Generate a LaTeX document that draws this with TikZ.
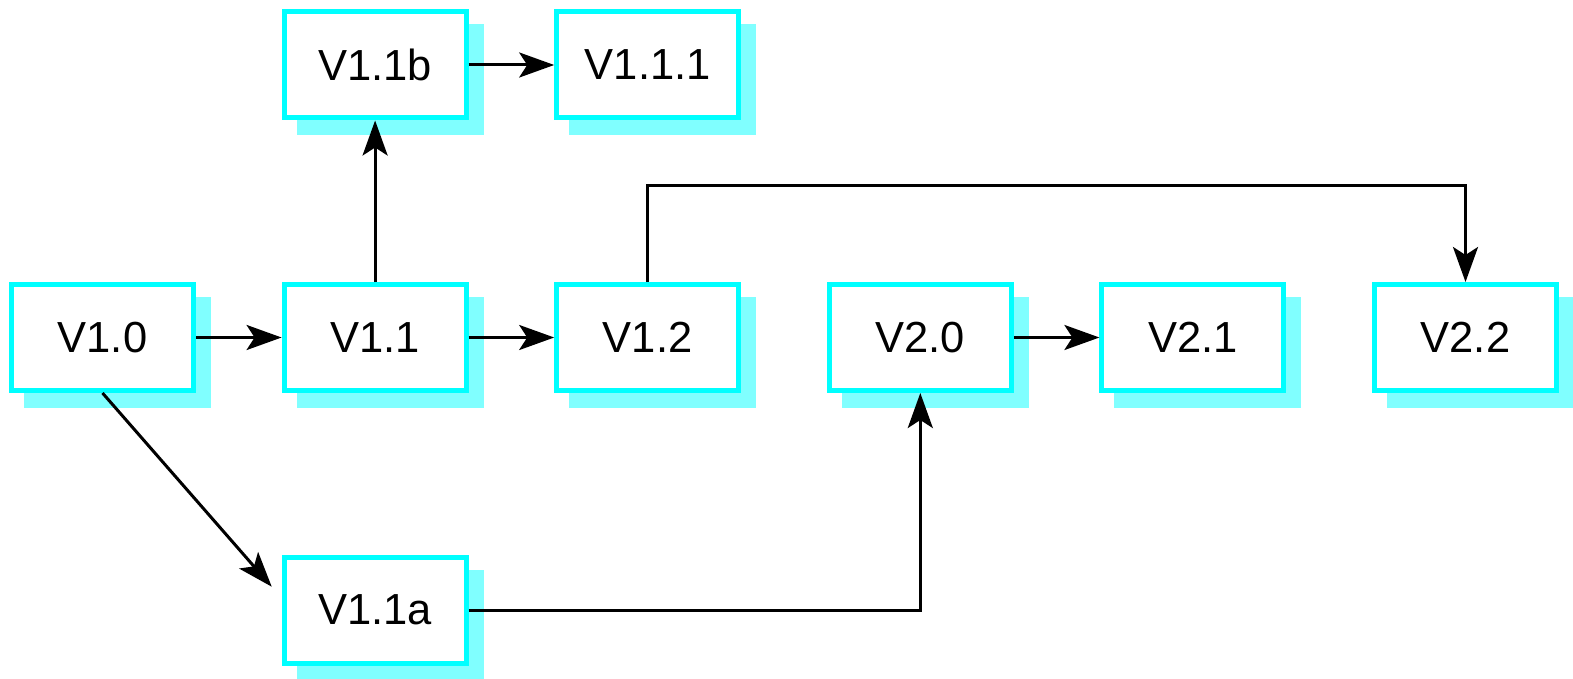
\documentclass[tikz,border=0pt]{standalone}
\usepackage{fontspec}
\setmainfont{Liberation Sans}
\usetikzlibrary{arrows.meta,shadows,calc}
\definecolor{boxcyan}{RGB}{0,255,255}
\definecolor{shadowcyan}{RGB}{128,255,255}
\begin{document}
\begin{tikzpicture}[x=1pt,y=-1pt,
  vbox/.style={draw=boxcyan, line width=5pt, fill=white,
    minimum width=182pt, minimum height=106pt, inner sep=0pt,
    font=\fontsize{43.5}{50}\selectfont,
    drop shadow={shadow xshift=15pt, shadow yshift=-15pt,
      fill=shadowcyan, draw=shadowcyan, line width=5pt, opacity=1}},
  arr/.style={line width=3pt, -{Stealth[length=35pt,width=25pt,inset=8pt]}}]
\useasboundingbox (0,0) rectangle (1573,679);
\node[vbox] (V11b) at (375.1,65) {V1.1b};
\node[vbox] (V111) at (647.7,65) {V1.1.1};
\node[vbox] (V10) at (102.5,337.5) {V1.0};
\node[vbox] (V11) at (375.1,337.5) {V1.1};
\node[vbox] (V12) at (647.7,337.5) {V1.2};
\node[vbox] (V20) at (920.3,337.5) {V2.0};
\node[vbox] (V21) at (1192.9,337.5) {V2.1};
\node[vbox] (V22) at (1465.5,337.5) {V2.2};
\node[vbox] (V11a) at (375.1,610) {V1.1a};
\coordinate (aim) at ($(V11a.west)+(0,-12)$);
\coordinate (jog) at ($(V12.north)+(0,-96)$);
\draw[arr] (V10) -- (V11);
\draw[arr] (V11) -- (V12);
\draw[arr] (V11b) -- (V111);
\draw[arr] (V20) -- (V21);
\draw[arr] (V11.north) -- (V11b.south);
\draw[arr, shorten >=15pt] (V10.south) -- (aim);
\draw[arr] (V11a.east) -| (V20.south);
\draw[arr] (V12.north) -- (jog) -| (V22.north);
\end{tikzpicture}
\end{document}
